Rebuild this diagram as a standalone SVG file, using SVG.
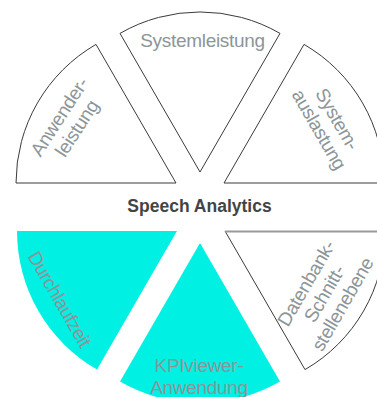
<svg xmlns="http://www.w3.org/2000/svg" width="377" height="397" viewBox="0 0 377 397">
  <style>
    .sec { fill: #ffffff; stroke: #3a3a3a; stroke-width: 1; }
    .hot { fill: #00F0E4; stroke: none; }
    .lbl { font-family: "Liberation Sans", Arial, sans-serif; font-size: 19px; fill: #8c9598; text-anchor: middle; letter-spacing: -0.3px; }
    .title { font-family: "Liberation Sans", Arial, sans-serif; font-size: 17.5px; font-weight: bold; fill: #444444; text-anchor: middle; }
  </style>
  <rect width="377" height="397" fill="#ffffff"/>
  <g id="connectors"></g>
  <g id="systemleistung">
    <path class="sec" d="M200,172 L120,33.4 A160,160 0 0 1 280,33.4 Z"/>
    <text class="lbl" x="202.5" y="47">Systemleistung</text>
  </g>
  <g id="anwenderleistung">
    <path class="sec" d="M176,183 L16,183 A160,160 0 0 1 96,44.4 Z"/>
    <g transform="translate(73.5,126) rotate(-57)">
      <text class="lbl" x="0" y="-10.5">Anwender-</text>
      <text class="lbl" x="0" y="10.5">leistung</text>
    </g>
  </g>
  <g id="systemauslastung">
    <path class="sec" d="M224,183 L304,44.4 A160,160 0 0 1 384,183 Z"/>
    <g transform="translate(322.5,127.5) rotate(60)">
      <text class="lbl" x="0" y="-10.5">System-</text>
      <text class="lbl" x="0" y="10.5">auslastung</text>
    </g>
  </g>
  <g id="speech-analytics">
    <text class="title" x="199.5" y="211.5">Speech Analytics</text>
  </g>
  <g id="durchlaufzeit">
    <path class="hot" d="M177,231 L17,231 A160,160 0 0 0 97,369.6 Z"/>
    <g transform="translate(54,302.5) rotate(60)">
      <text class="lbl" x="0" y="0">Durchlaufzeit</text>
    </g>
  </g>
  <g id="kpiviewer-anwendung">
    <path class="hot" d="M200,243 L120,381.6 A160,160 0 0 0 280,381.6 Z"/>
    <text class="lbl" x="199" y="371.5">KPIviewer-</text>
    <text class="lbl" x="199" y="394">Anwendung</text>
  </g>
  <g id="datenbank-schnittstellenebene">
    <path fill="#ffffff" stroke="none" d="M225,231 L305,369.6 A160,160 0 0 0 385,231 Z"/>
    <path fill="none" stroke="#3a3a3a" stroke-width="1" d="M225,231 L305,369.6 A160,160 0 0 0 385,231"/>
    <line x1="225" y1="231.5" x2="385" y2="231.5" stroke="#999999" stroke-width="2"/>
    <g transform="translate(330,297) rotate(-60)">
      <text class="lbl" x="0" y="-21">Datenbank-</text>
      <text class="lbl" x="0" y="0">Schnitt-</text>
      <text class="lbl" x="0" y="21">stellenebene</text>
    </g>
  </g>
</svg>
